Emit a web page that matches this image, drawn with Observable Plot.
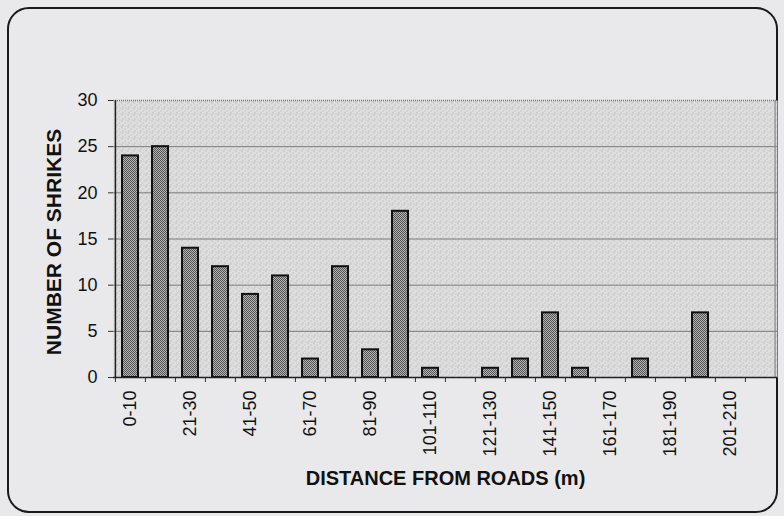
<!DOCTYPE html>
<html>
<head>
<meta charset="utf-8">
<script src="https://cdn.jsdelivr.net/npm/d3@7"></script>
<script src="https://cdn.jsdelivr.net/npm/@observablehq/plot@0.6"></script>
<style>
  html, body { margin: 0; padding: 0; background: #e9e9eb; }
  #wrap { position: relative; width: 784px; height: 516px; }
  #border { position: absolute; left: 7px; top: 7px; width: 771px; height: 506px;
            border: 2px solid #1a1a1a; border-radius: 22px; box-sizing: border-box; pointer-events: none; }
  #chart { position: absolute; left: 0; top: 0; }
  #chart svg text.tick18 { font-size: 18px !important; }
</style>
</head>
<body>
<div id="wrap"><div id="border"></div><div id="chart"></div></div>
<script>
const categories = ["0-10","11-20","21-30","31-40","41-50","51-60","61-70","71-80","81-90","91-100",
  "101-110","111-120","121-130","131-140","141-150","151-160","161-170","171-180","181-190","191-200",
  "201-210","211-220"];
const shrikes = [24,25,14,12,9,11,2,12,3,18,1,0,1,2,7,1,0,2,0,7,0,0];
const yTicks = [0,5,10,15,20,25,30];
const gridValues = [5,10,15,20,25];
const xTitle = "DISTANCE FROM ROADS (m)";
const yTitle = "NUMBER OF SHRIKES";

const data = categories.map((c, i) => ({category: c, count: shrikes[i]}));

const W = 784, H = 516, ML = 113, MR = 7, MT = 100, MB = 139;
const step = (W - ML - MR) / categories.length;

const chart = Plot.plot({
  width: W, height: H,
  marginLeft: ML, marginRight: MR, marginTop: MT, marginBottom: MB,
  style: {fontFamily: "'Liberation Sans', Arial, sans-serif", fontSize: "18px", background: "transparent", color: "#111"},
  x: {domain: categories, paddingInner: 0.47, paddingOuter: 0.235, label: null},
  y: {domain: [0, 30], ticks: yTicks, label: null},
  marks: [
    Plot.frame({fill: "url(#bgStipple)", stroke: "none"}),
    Plot.ruleY(gridValues, {stroke: "#7a7a7a", strokeWidth: 1}),
    Plot.ruleY([30], {stroke: "#777", strokeWidth: 1.5, strokeDasharray: "1,1"}),
    Plot.ruleX([categories[categories.length - 1]], {dx: step / 2 - 0.5, stroke: "#888", strokeWidth: 1.2}),
    Plot.barY(data, {x: "category", y: "count", fill: "url(#barStipple)", stroke: "#111", strokeWidth: 2}),
    Plot.axisY({ticks: yTicks, tickSize: 5, tickPadding: 11, fontSize: 18, stroke: "#333"}),
    Plot.axisX({tickSize: 0, tickRotate: -90, tickPadding: 13, fontSize: 18,
      tickFormat: (d) => (categories.indexOf(d) % 2 === 0 ? d : "")}),
    Plot.axisX({tickSize: 5, tickFormat: () => "", dx: -step / 2, stroke: "#333"}),
    Plot.ruleY([0], {stroke: "#222", strokeWidth: 1.5}),
    Plot.ruleX([categories[0]], {dx: -step / 2, stroke: "#222", strokeWidth: 1.5}),
    Plot.text([xTitle], {frameAnchor: "bottom", dy: 107, fontSize: 20, fontWeight: "bold", lineAnchor: "bottom", fill: "#111"}),
    Plot.text([yTitle], {frameAnchor: "left", textAnchor: "middle", dx: -59, dy: 3, rotate: -90, fontSize: 21, fontWeight: "bold", fill: "#111"})
  ]
});

// Tick labels: force the reference's larger size on every non-title text
d3.select(chart).selectAll("text").each(function() {
  const t = this.textContent;
  if (t !== xTitle && t !== yTitle) {
    this.setAttribute("class", "tick18");
    this.setAttribute("font-size", "18");
    this.style.fontSize = "18px";
  }
});

// Stipple textures
const ns = "http://www.w3.org/2000/svg";
const defs = document.createElementNS(ns, "defs");
defs.innerHTML = `
  <pattern id="barStipple" width="2" height="2" patternUnits="userSpaceOnUse">
    <rect width="2" height="2" fill="#b4b4b4"/>
    <rect x="0" y="0" width="1" height="1" fill="#545454"/>
    <rect x="1" y="1" width="1" height="1" fill="#545454"/>
  </pattern>
  <pattern id="bgStipple" width="6" height="6" patternUnits="userSpaceOnUse">
    <rect width="6" height="6" fill="#dedede"/>
    <rect x="1" y="0" width="1" height="1" fill="#a6a6a6"/>
    <rect x="4" y="2" width="1" height="1" fill="#b0b0b0"/>
    <rect x="2" y="4" width="1" height="1" fill="#a6a6a6"/>
    <rect x="5" y="5" width="1" height="1" fill="#bcbcbc"/>
  </pattern>`;
chart.insertBefore(defs, chart.firstChild);
document.getElementById("chart").appendChild(chart);
</script>
</body>
</html>
